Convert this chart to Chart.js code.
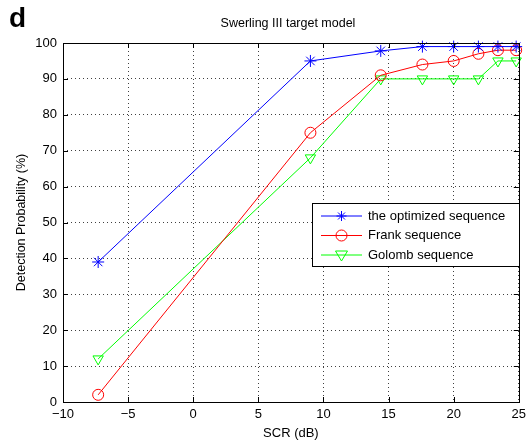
<!DOCTYPE html>
<html>
<head>
<meta charset="utf-8">
<script src="https://cdn.jsdelivr.net/npm/chart.js@4.4.1/dist/chart.umd.min.js"></script>
<style>
  html, body { margin: 0; padding: 0; background: #fff; }
  #wrap { width: 531px; height: 442px; }
</style>
</head>
<body>
<div id="wrap"><canvas id="detChart" width="531" height="442"></canvas></div>
<script>
// SCR (dB) values where each run was made
const scr = [-7.3, 9, 14.4, 17.6, 20, 21.9, 23.4, 24.8];
// detection probability (%) per sequence
const optimized = [39, 95, 97.8, 99, 99, 99, 99, 99];
const frank = [2, 75, 91, 94, 95, 97, 98, 98];
const golomb = [12, 68, 90, 90, 90, 90, 95, 95];

const seriesNames = ['the optimized sequence', 'Frank sequence', 'Golomb sequence'];
const xTicks = [-10, -5, 0, 5, 10, 15, 20, 25];
const yTicks = [0, 10, 20, 30, 40, 50, 60, 70, 80, 90, 100];

const FONT = 'Liberation Sans, Arial, Helvetica, sans-serif';

function toPoints(ys) {
    return scr.map((x, i) => ({ x: x, y: ys[i] }));
}

function drawMarker(ctx, style, x, y, color) {
    ctx.save();
    ctx.strokeStyle = color;
    ctx.lineWidth = 1;
    ctx.beginPath();
    if (style === 'star') {
        const r = 5;
        ctx.moveTo(x - r, y); ctx.lineTo(x + r, y);
        ctx.moveTo(x, y - r); ctx.lineTo(x, y + r);
        ctx.moveTo(x - r * 0.7, y - r * 0.7); ctx.lineTo(x + r * 0.7, y + r * 0.7);
        ctx.moveTo(x - r * 0.7, y + r * 0.7); ctx.lineTo(x + r * 0.7, y - r * 0.7);
    } else if (style === 'circle') {
        ctx.arc(x, y, 5.5, 0, Math.PI * 2);
    } else {
        ctx.moveTo(x - 6, y - 4); ctx.lineTo(x + 6, y - 4); ctx.lineTo(x, y + 6); ctx.closePath();
    }
    ctx.stroke();
    ctx.restore();
}

// box, inward ticks, title, panel letter and legend, matlab style
const matlabFrame = {
    id: 'matlabFrame',
    afterDraw(chart) {
        const { ctx, chartArea: a, scales } = chart;
        ctx.save();
        ctx.strokeStyle = '#000';
        ctx.lineWidth = 1;
        ctx.strokeRect(Math.round(a.left) + 0.5, Math.round(a.top) + 0.5,
            Math.round(a.right - a.left), Math.round(a.bottom - a.top));
        const tl = 5;
        ctx.beginPath();
        xTicks.forEach(v => {
            const px = Math.round(scales.x.getPixelForValue(v)) + 0.5;
            ctx.moveTo(px, a.bottom); ctx.lineTo(px, a.bottom - tl);
            ctx.moveTo(px, a.top); ctx.lineTo(px, a.top + tl);
        });
        yTicks.forEach(v => {
            const py = Math.round(scales.y.getPixelForValue(v)) + 0.5;
            ctx.moveTo(a.left, py); ctx.lineTo(a.left + tl, py);
            ctx.moveTo(a.right, py); ctx.lineTo(a.right - tl, py);
        });
        ctx.stroke();

        // title and panel letter
        ctx.fillStyle = '#000';
        ctx.font = '12.5px ' + FONT;
        ctx.textAlign = 'center';
        ctx.textBaseline = 'middle';
        ctx.fillText('Swerling III target model', 288, 24);
        ctx.font = 'bold 28px ' + FONT;
        ctx.textAlign = 'left';
        ctx.textBaseline = 'alphabetic';
        ctx.fillText('d', 9, 27);

        // legend
        const bx = 312.5, by = 203.5, bw = 207, bh = 63;
        ctx.fillStyle = '#fff';
        ctx.fillRect(bx, by, bw, bh);
        ctx.strokeStyle = '#000';
        ctx.strokeRect(bx, by, bw, bh);
        const styles = ['star', 'circle', 'triangle'];
        ctx.font = '13px ' + FONT;
        ctx.textBaseline = 'middle';
        chart.data.datasets.forEach((ds, i) => {
            const ly = 216 + i * 19.5;
            ctx.strokeStyle = ds.borderColor;
            ctx.beginPath();
            ctx.moveTo(321, ly); ctx.lineTo(362, ly);
            ctx.stroke();
            drawMarker(ctx, styles[i], 341.5, ly, ds.borderColor);
            ctx.fillStyle = '#000';
            ctx.fillText(ds.label, 368, ly);
        });
        ctx.restore();
    }
};

const makeSet = (label, ys, color, style, rot) => ({
    label: label,
    data: toPoints(ys),
    borderColor: color,
    backgroundColor: 'rgba(0,0,0,0)',
    borderWidth: 1,
    pointStyle: style,
    pointRotation: rot,
    pointRadius: style === 'circle' ? 5.5 : 6,
    pointBorderWidth: 1,
    pointBorderColor: color,
    pointBackgroundColor: 'rgba(0,0,0,0)',
    tension: 0,
    clip: false,
});

const data = {
    datasets: [
        makeSet(seriesNames[0], optimized, '#0000ff', 'star', 0),
        makeSet(seriesNames[1], frank, '#ff0000', 'circle', 0),
        makeSet(seriesNames[2], golomb, '#00ff00', 'triangle', 180),
    ],
};

const gridOpts = {
    color: 'rgba(0,0,0,0.75)',
    lineWidth: 1,
    drawTicks: false,
};

const config = {
    type: 'line',
    data,
    options: {
        responsive: false,
        animation: false,
        events: [],
        layout: { padding: { top: 43, right: 11, left: 0, bottom: 0 } },
        plugins: {
            legend: { display: false },
            title: { display: false },
            tooltip: { enabled: false },
        },
        scales: {
            x: {
                type: 'linear',
                min: -10,
                max: 25,
                afterFit(s) { s.height = 40; },
                afterBuildTicks(s) { s.ticks = xTicks.map(v => ({ value: v })); },
                grid: gridOpts,
                border: { display: false, dash: [1, 3] },
                ticks: {
                    padding: 5,
                    color: '#000',
                    font: { family: FONT, size: 13 },
                    callback: v => (v < 0 ? '\u2212' + Math.abs(v) : String(v)),
                },
                title: {
                    display: true,
                    text: 'SCR (dB)',
                    color: '#000',
                    font: { family: FONT, size: 13 },
                    padding: { top: 0, bottom: 1 },
                },
            },
            y: {
                min: 0,
                max: 100,
                afterFit(s) { s.width = 63; },
                afterBuildTicks(s) { s.ticks = yTicks.map(v => ({ value: v })); },
                grid: gridOpts,
                border: { display: false, dash: [1, 3] },
                ticks: {
                    padding: 6,
                    color: '#000',
                    font: { family: FONT, size: 13 },
                },
                title: {
                    display: true,
                    text: 'Detection Probability (%)',
                    color: '#000',
                    font: { family: FONT, size: 12.5 },
                    padding: { top: 14, bottom: 0 },
                },
            },
        },
    },
    plugins: [matlabFrame],
};

const detChart = new Chart(document.getElementById('detChart'), config);
</script>
</body>
</html>
